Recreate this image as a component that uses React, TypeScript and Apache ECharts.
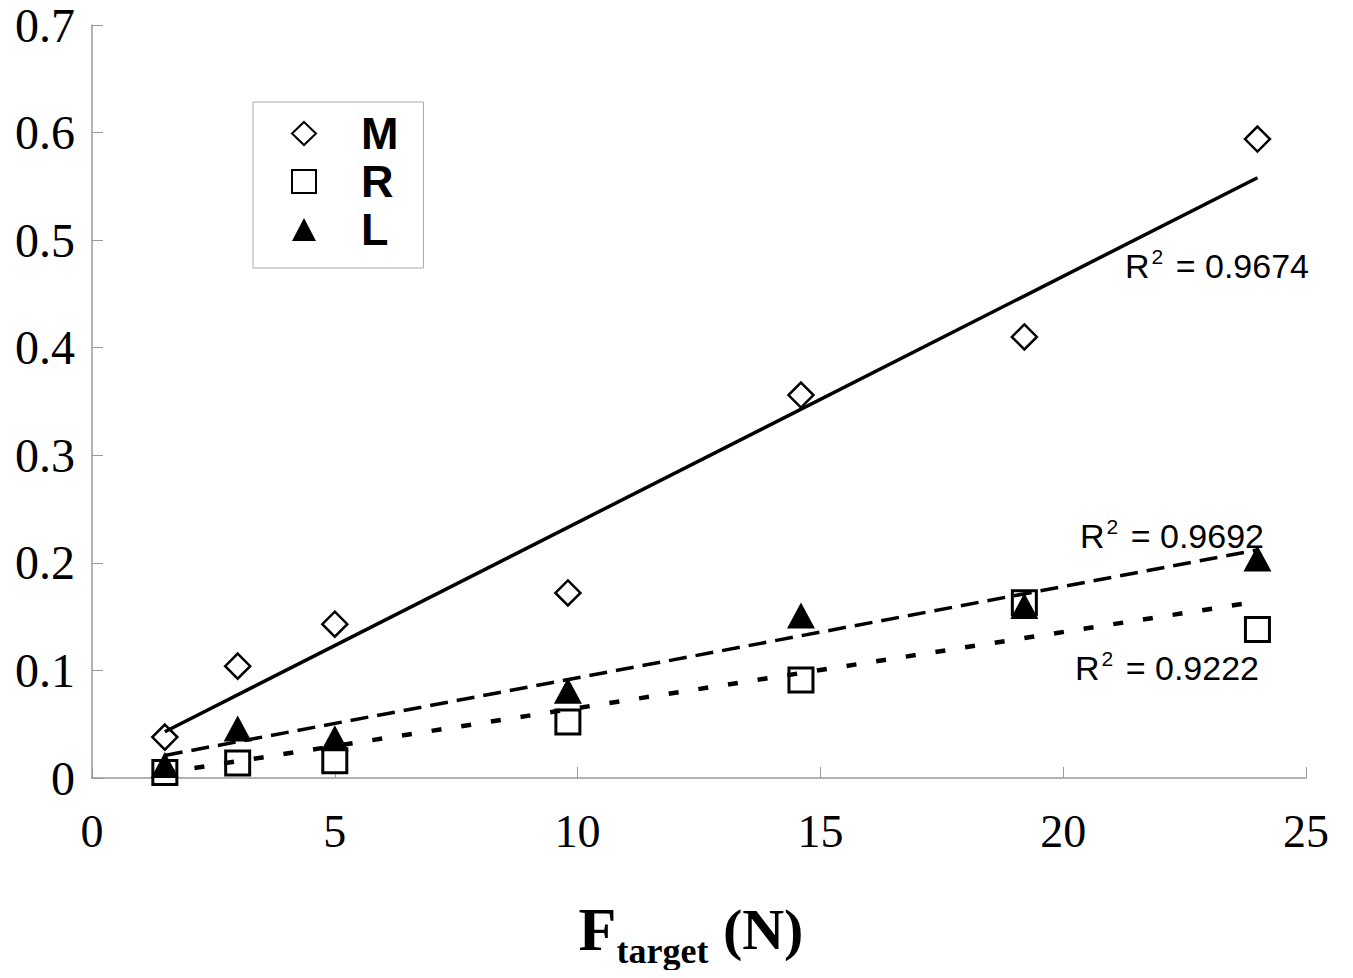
import React, { useEffect, useRef } from "react";
import * as echarts from "echarts";

const forces = [1.5, 3, 5, 9.8, 14.6, 19.2, 24];
const valuesM = [0.038, 0.104, 0.143, 0.172, 0.356, 0.41, 0.594];
const valuesR = [0.005, 0.014, 0.016, 0.052, 0.091, 0.163, 0.138];
const valuesL = [0.012, 0.046, 0.037, 0.081, 0.151, 0.160, 0.204];
const trendX = [1.5, 24];
const trendM = [0.043, 0.558];
const trendL = [0.021, 0.212];
const trendR = [0.005, 0.164];
const r2Labels = ["0.9674", "0.9692", "0.9222"];
const yTicks = [0, 0.1, 0.2, 0.3, 0.4, 0.5, 0.6, 0.7];

const pairs = (xs: number[], ys: number[]) => xs.map((x, i) => [x, ys[i]]);

export default function App() {
  const ref = useRef<HTMLDivElement>(null);
  useEffect(() => {
    if (!ref.current) return;
    const chart = echarts.init(ref.current, null, { renderer: "svg" });
    const serif = "'Liberation Serif', 'Times New Roman', serif";
    const sans = "'Liberation Sans', Arial, sans-serif";
    const r2Text = (v: string) => `{r|R}{s|2}{r| = ${v}}`;
    const r2Rich = {
      r: { fontSize: 34, fontFamily: sans, color: "#000", lineHeight: 40 },
      s: { fontSize: 21, fontFamily: sans, color: "#000", verticalAlign: "top", lineHeight: 40, padding: [0, 3, 18, 2] },
    };
    chart.setOption({
      animation: false,
      backgroundColor: "#fff",
      grid: { left: 84, right: 39, top: 17, bottom: 192, containLabel: false, outerBoundsMode: "none" },
      xAxis: {
        type: "value",
        min: 0,
        max: 25,
        interval: 5,
        splitLine: { show: false },
        axisLine: { lineStyle: { color: "#999", width: 1.5 } },
        axisTick: { inside: true, length: 11, lineStyle: { color: "#999" } },
        axisLabel: { fontFamily: serif, fontSize: 46, color: "#000", margin: 30 },
        name: "{F|F}{sub|target}{N| (N)}",
        nameLocation: "middle",
        nameGap: 116,
        nameTextStyle: {
          padding: [0, 16, 0, 0],
          rich: {
            F: { fontFamily: serif, fontSize: 62, fontWeight: "bold", color: "#000", lineHeight: 70 },
            sub: { fontFamily: serif, fontSize: 36, fontWeight: "bold", color: "#000", lineHeight: 70, verticalAlign: "bottom", padding: [0, 0, -5, 0] },
            N: { fontFamily: serif, fontSize: 58, fontWeight: "bold", color: "#000", lineHeight: 70 },
          },
        },
      },
      yAxis: {
        type: "value",
        min: 0,
        max: 0.7,
        interval: 0.1,
        splitLine: { show: false },
        axisLine: { show: true, lineStyle: { color: "#999", width: 1.5 } },
        axisTick: { show: true, inside: true, length: 11, lineStyle: { color: "#999" } },
        axisLabel: {
          fontFamily: serif,
          fontSize: 48,
          lineHeight: 40,
          color: "#000",
          margin: 17,
          formatter: (v: number) => {
            const t = yTicks.find((y) => Math.abs(y - v) < 1e-9);
            return t === undefined ? "" : String(t);
          },
        },
      },
      legend: {
        left: 245,
        top: 94,
        orient: "vertical",
        data: ["M", "R", "L"],
        borderColor: "#aaa",
        borderWidth: 1,
        padding: [9, 25, 16, 38],
        itemGap: 3,
        itemWidth: 24,
        itemHeight: 23,
        textStyle: {
          fontFamily: sans,
          fontWeight: "bold",
          fontSize: 45,
          color: "#000",
          lineHeight: 40,
          padding: [0, 0, 0, 40],
        },
      },
      series: [
        {
          name: "M",
          type: "scatter",
          symbol: "diamond",
          symbolSize: [25, 25],
          itemStyle: { color: "#fff", borderColor: "#000", borderWidth: 2.5, opacity: 1 },
          data: pairs(forces, valuesM),
          z: 2,
        },
        {
          name: "R",
          type: "scatter",
          symbol: "rect",
          symbolSize: [24, 24],
          itemStyle: { color: "#fff", borderColor: "#000", borderWidth: 3, opacity: 1 },
          data: pairs(forces, valuesR),
          z: 2,
        },
        {
          name: "L",
          type: "scatter",
          symbol: "triangle",
          symbolSize: [28, 26],
          itemStyle: { color: "#000", opacity: 1 },
          data: pairs(forces, valuesL),
          z: 3,
        },
        {
          name: "trendM",
          type: "line",
          symbol: "none",
          lineStyle: { color: "#000", width: 3.5, type: "solid" },
          data: pairs(trendX, trendM),
          z: 4,
          silent: true,
        },
        {
          name: "trendL",
          type: "line",
          symbol: "none",
          lineStyle: { color: "#000", width: 3.5, type: [18, 9] },
          data: pairs(trendX, trendL),
          z: 4,
          silent: true,
        },
        {
          name: "trendR",
          type: "line",
          symbol: "none",
          lineStyle: { color: "#000", width: 4.5, type: [10, 20] },
          data: pairs(trendX, trendR),
          z: 4,
          silent: true,
        },
      ],
      graphic: [
        { type: "text", left: 1117, top: 238, style: { text: r2Text(r2Labels[0]), rich: r2Rich } },
        { type: "text", left: 1072, top: 508, style: { text: r2Text(r2Labels[1]), rich: r2Rich } },
        { type: "text", left: 1067, top: 640, style: { text: r2Text(r2Labels[2]), rich: r2Rich } },
      ],
    });
    return () => chart.dispose();
  }, []);
  return <div ref={ref} style={{ width: 1337, height: 962 }} />;
}
